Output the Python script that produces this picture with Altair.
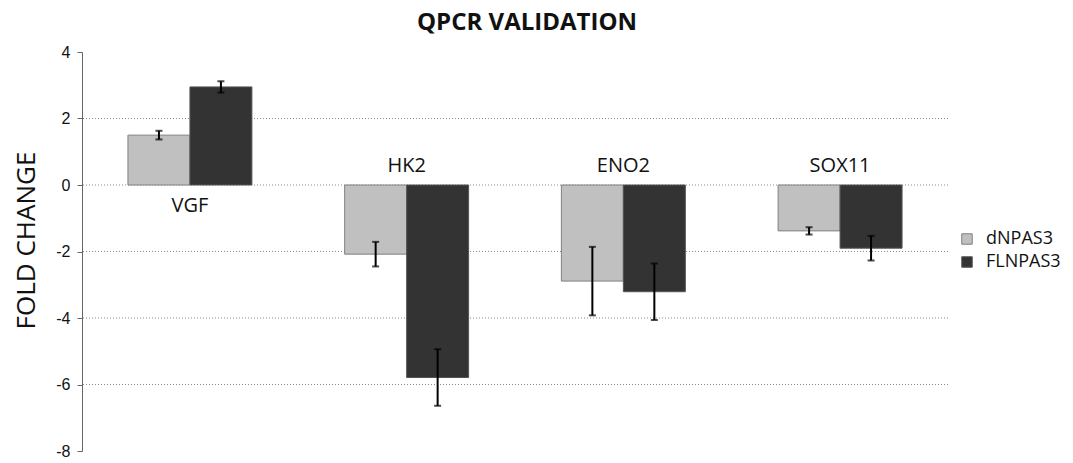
import altair as alt
import pandas as pd

# Fold-change values per gene and construct, with error bar half-widths
genes = ["VGF", "HK2", "ENO2", "SOX11"]
series = ["dNPAS3", "FLNPAS3"]
dnpas3 = [1.5, -2.08, -2.89, -1.38]
dnpas3_err = [0.13, 0.37, 1.03, 0.11]
flnpas3 = [2.95, -5.79, -3.21, -1.90]
flnpas3_err = [0.17, 0.85, 0.85, 0.37]
y_ticks = [-8, -6, -4, -2, 0, 2, 4]
grid_values = [2, 0, -2, -4, -6]
chart_title = "QPCR VALIDATION"

rows = []
for g, v, e in zip(genes, dnpas3, dnpas3_err):
    rows.append({"gene": g, "series": "dNPAS3", "value": v, "lo": v - e, "hi": v + e})
for g, v, e in zip(genes, flnpas3, flnpas3_err):
    rows.append({"gene": g, "series": "FLNPAS3", "value": v, "lo": v - e, "hi": v + e})
df = pd.DataFrame(rows)

labels = pd.DataFrame({"gene": genes, "up": [v > 0 for v in dnpas3], "zero": 0})
grid = pd.DataFrame({"y": grid_values})

FONT = "Open Sans"

x_enc = alt.X("gene:N", sort=genes, axis=None,
              scale=alt.Scale(paddingInner=0.428, paddingOuter=0.212))
y_scale = alt.Scale(domain=[-8, 4], nice=False, zero=False)
x_off = alt.XOffset("series:N", sort=series)

gridlines = alt.Chart(grid).mark_rule(
    color="#8a8a8a", strokeDash=[1, 2], strokeWidth=1
).encode(y=alt.Y("y:Q", scale=y_scale))

bars = alt.Chart(df).mark_bar(strokeWidth=1).encode(
    x=x_enc,
    xOffset=x_off,
    y=alt.Y("value:Q", scale=y_scale,
            axis=alt.Axis(values=y_ticks, grid=False, title="FOLD CHANGE",
                          labelExpr="'' + datum.value",
                          titleFont=FONT, titleFontSize=26, titleFontWeight="normal",
                          titleColor="#111", titleX=-48, titleY=188,
                          titleBaseline="alphabetic",
                          labelFont="Liberation Sans", labelFontSize=16,
                          labelColor="#111", labelPadding=7,
                          tickSize=5, tickColor="#666", domainColor="#666")),
    y2=alt.datum(0),
    fill=alt.Color("series:N", sort=series,
                   scale=alt.Scale(domain=series, range=["#c0c0c0", "#333333"]),
                   legend=alt.Legend(title=None, orient="none", legendX=876, legendY=178,
                                     symbolType="square", symbolSize=110,
                                     symbolStrokeColor="#555", symbolStrokeWidth=1,
                                     labelFont=FONT, labelFontSize=18,
                                     labelColor="#111", rowPadding=5, labelOffset=10)),
    stroke=alt.Stroke("series:N", sort=series,
                      scale=alt.Scale(domain=series, range=["#808080", "#555555"]),
                      legend=None),
)

err_line = alt.Chart(df).mark_rule(color="#000", strokeWidth=2).encode(
    x=x_enc, xOffset=x_off,
    y=alt.Y("lo:Q", scale=y_scale), y2="hi:Q",
)
err_lo = alt.Chart(df).mark_tick(color="#000", thickness=2, size=7).encode(
    x=x_enc, xOffset=x_off, y=alt.Y("lo:Q", scale=y_scale),
)
err_hi = alt.Chart(df).mark_tick(color="#000", thickness=2, size=7).encode(
    x=x_enc, xOffset=x_off, y=alt.Y("hi:Q", scale=y_scale),
)

# Gene names sit below the zero line for upregulated genes, above it otherwise
label_style = dict(font=FONT, fontSize=20, color="#111", baseline="alphabetic")
labels_below = alt.Chart(labels).transform_filter("datum.up").mark_text(
    dy=27, **label_style
).encode(x=x_enc, y=alt.Y("zero:Q", scale=y_scale), text="gene:N")
labels_above = alt.Chart(labels).transform_filter("!datum.up").mark_text(
    dy=-13, **label_style
).encode(x=x_enc, y=alt.Y("zero:Q", scale=y_scale), text="gene:N")

title = alt.Chart(pd.DataFrame({"t": [chart_title]})).mark_text(
    font=FONT, fontSize=24, fontWeight="bold", color="#111", baseline="alphabetic"
).encode(x=alt.value(445), y=alt.value(-22), text="t:N")

chart = alt.layer(
    gridlines, bars, err_line, err_lo, err_hi, labels_below, labels_above, title
).properties(
    width=866, height=399,
    autosize=alt.AutoSizeParams(type="none"),
    padding={"left": 82, "top": 52, "right": 125, "bottom": 12},
).configure_view(stroke=None)

chart.save("out.html", embed_options={"renderer": "svg", "actions": False})
